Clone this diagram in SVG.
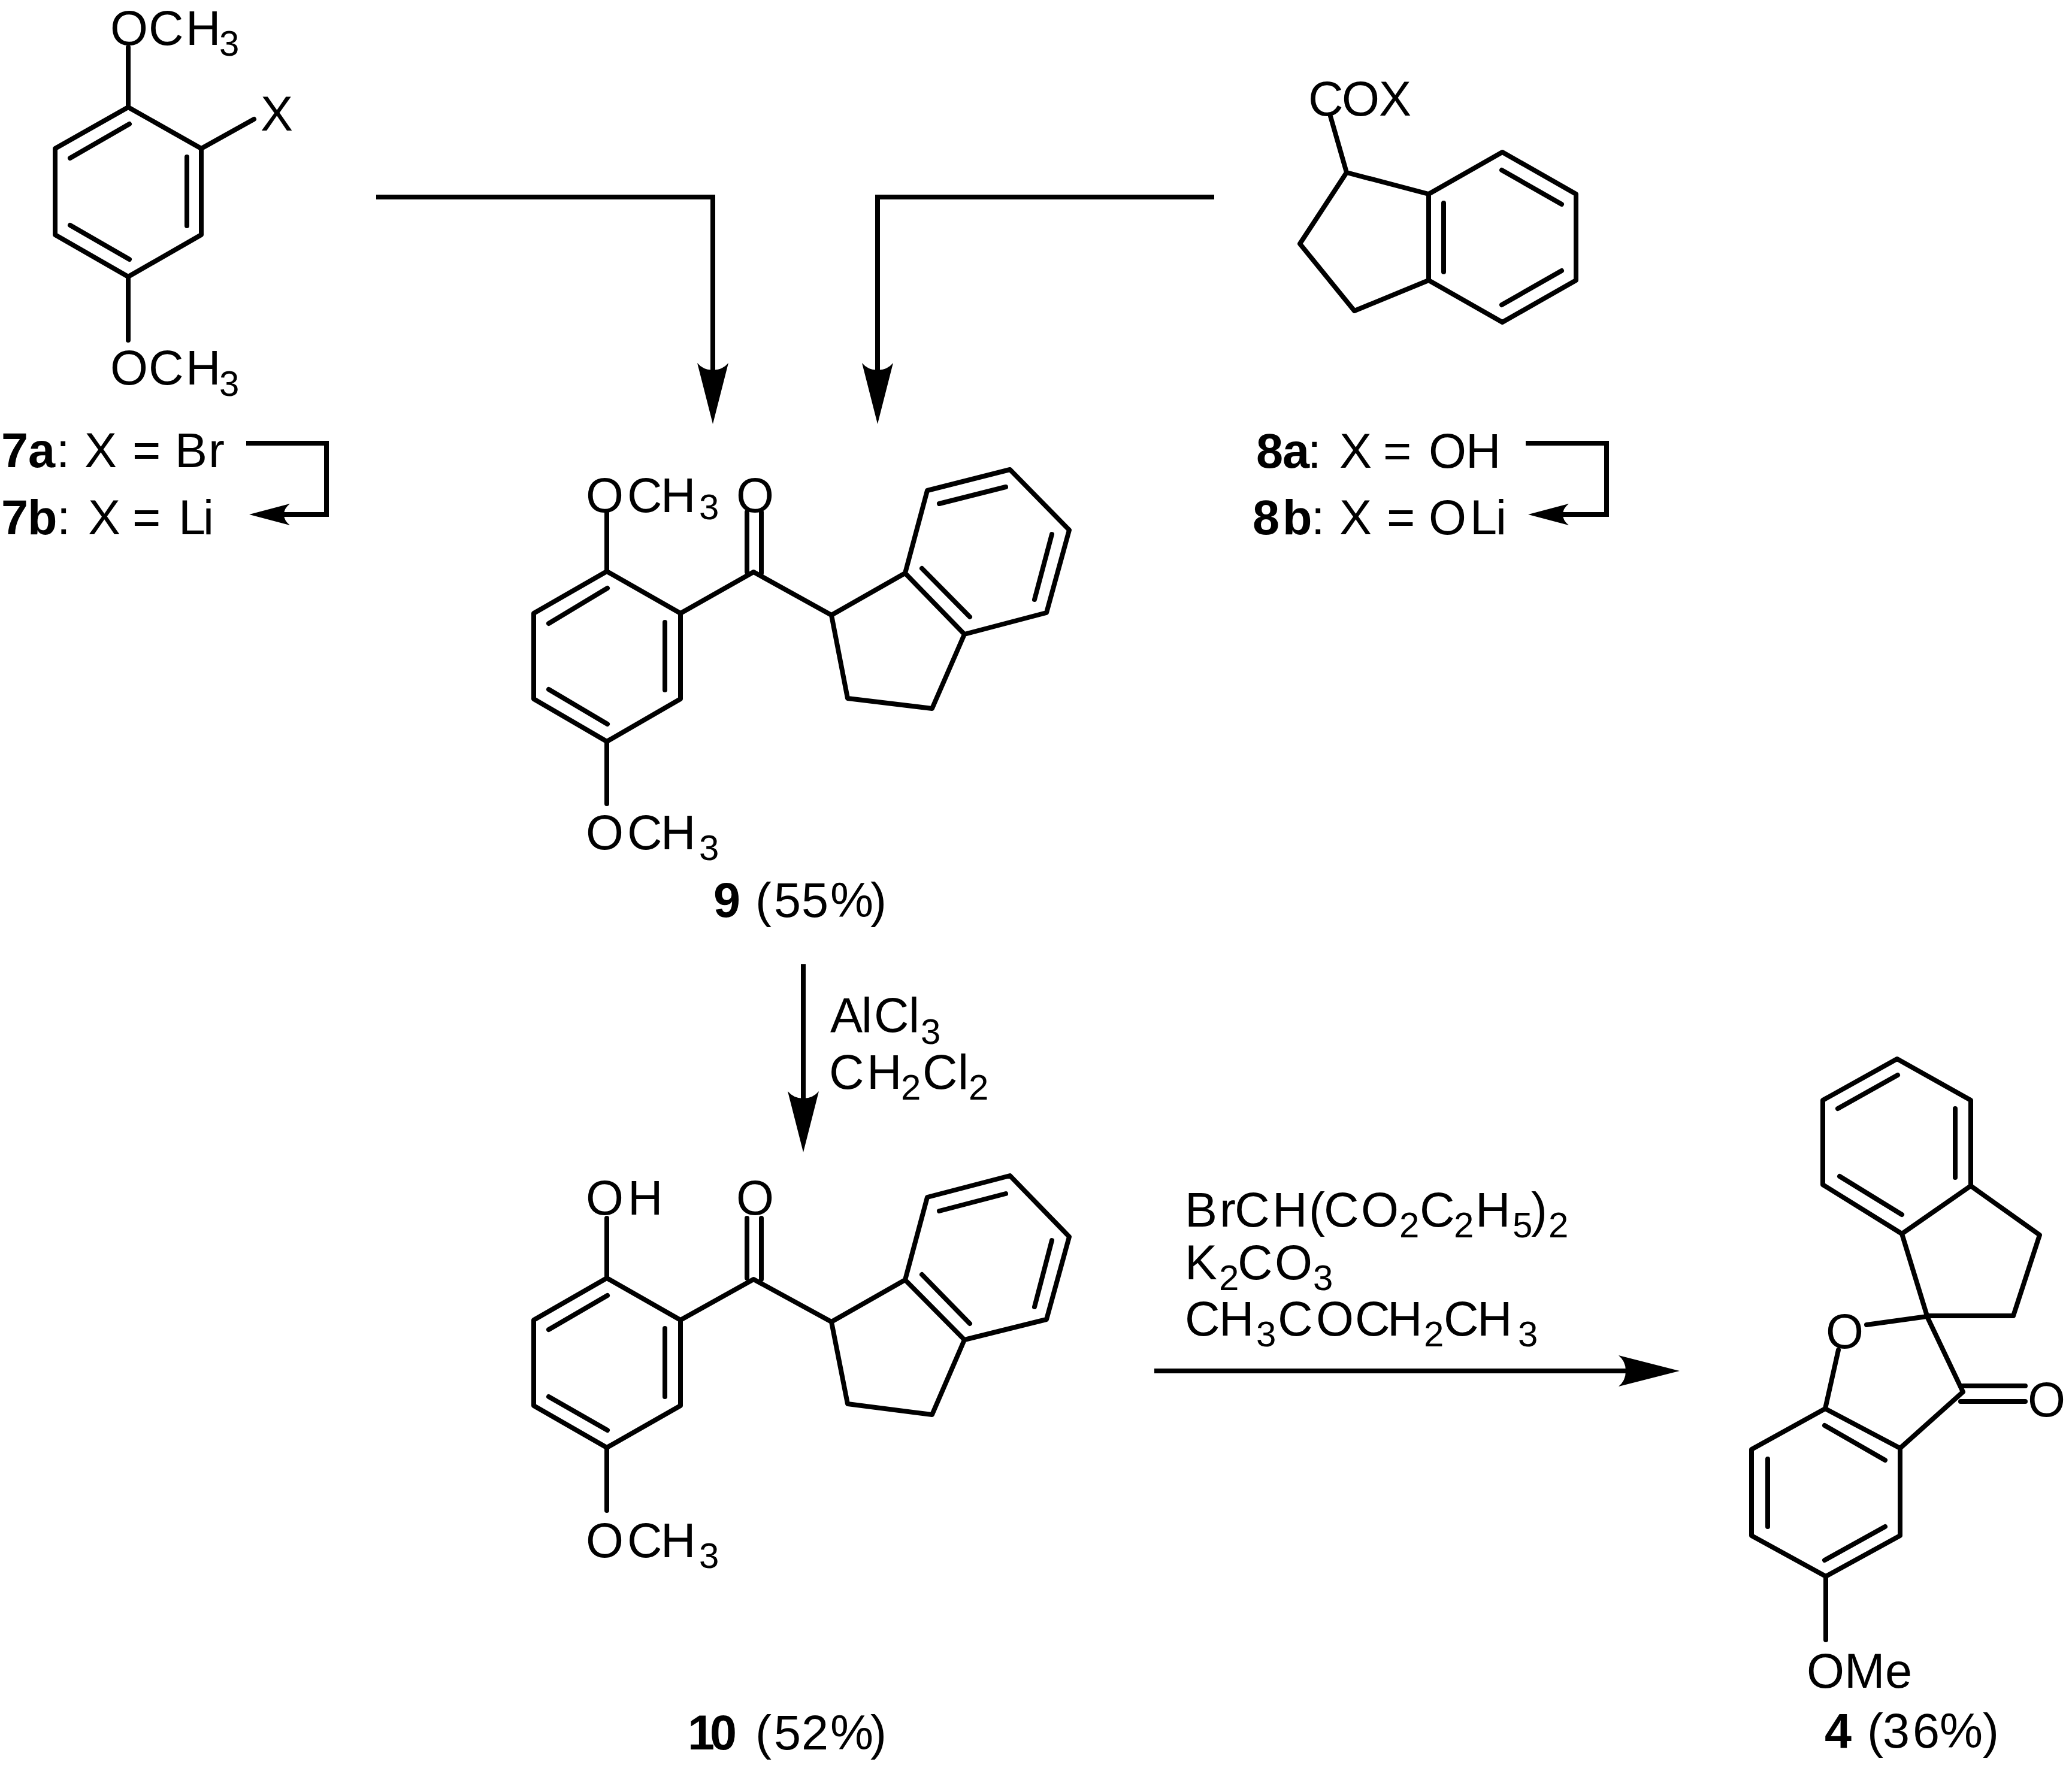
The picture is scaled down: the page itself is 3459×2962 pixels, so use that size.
<svg xmlns="http://www.w3.org/2000/svg" width="3459" height="2962" viewBox="0 0 3459 2962">
<style>
text{font-family:"Liberation Sans",Arial,sans-serif;font-size:81px;fill:#000}
.b{font-weight:bold}
.s{font-size:60px}
.bond{fill:none;stroke:#000;stroke-width:8;stroke-linecap:round;stroke-linejoin:round}
.conn{fill:none;stroke:#000;stroke-width:8;stroke-linejoin:miter}
</style>
<defs>
<marker id="big" markerUnits="userSpaceOnUse" markerWidth="104" markerHeight="60" refX="14" refY="30" orient="auto"><path d="M102,30L0,4Q12,14 12,30Q12,46 0,56Z" fill="#000"/></marker>
<marker id="small" markerUnits="userSpaceOnUse" markerWidth="72" markerHeight="40" refX="12" refY="20" orient="auto"><path d="M68,20L0,2Q10,10 10,20Q10,30 0,38Z" fill="#000"/></marker>
</defs>
<rect width="3459" height="2962" fill="#fff"/>
<g id="connectors">
<path class="conn" d="M628,329H1190V620" marker-end="url(#big)"/>
<path class="conn" d="M2027,329H1465V620" marker-end="url(#big)"/>
<path class="conn" d="M1341,1610V1836" marker-end="url(#big)"/>
<path class="conn" d="M1927,2289H2716" marker-end="url(#big)"/>
<path class="conn" d="M411,740H545V859H472" marker-end="url(#small)"/>
<path class="conn" d="M2547,740H2682V859H2607" marker-end="url(#small)"/>
</g>
<g id="node-7">
<path class="bond" d="M214,179L336,248V392L214,462L92,392V248ZM214,179V79M336,248L424,199M214,462V568M117,264L216,207M312,262V377M117,376L216,433"/>
<text x="184 248 310" y="75">OCH<tspan class="s" x="366" dy="18">3</tspan></text>
<text x="435" y="218">X</text>
<text x="184 248 310" y="642">OCH<tspan class="s" x="366" dy="19">3</tspan></text>
<text y="780"><tspan class="b" x="2 47">7a</tspan><tspan x="94">:</tspan><tspan x="141">X</tspan><tspan x="221">=</tspan><tspan x="292 348">Br</tspan></text>
<text y="892"><tspan class="b" x="2 46">7b</tspan><tspan x="95">:</tspan><tspan x="147">X</tspan><tspan x="221">=</tspan><tspan x="298 339">Li</tspan></text>
</g>
<g id="node-8">
<path class="bond" d="M2221,194L2248,288L2385,324V468L2261,519L2170,407L2248,288M2385,324L2508,254L2631,324V468L2508,538L2385,468M2410,339V454M2507,284L2607,341M2507,509L2607,452"/>
<text x="2184 2240 2302" y="193">COX</text>
<text y="781"><tspan class="b" x="2097 2141">8a</tspan><tspan x="2183">:</tspan><tspan x="2236">X</tspan><tspan x="2309">=</tspan><tspan x="2385 2447">OH</tspan></text>
<text y="892"><tspan class="b" x="2091 2141">8b</tspan><tspan x="2189">:</tspan><tspan x="2236">X</tspan><tspan x="2315">=</tspan><tspan x="2385 2454 2497">OLi</tspan></text>
</g>
<g id="node-9">
<path class="bond" d="M1013,954L1136,1024V1167L1013,1238L891,1167V1024ZM1013,954V855M1013,1238V1342M916,1041L1014,982M1110,1039V1152M916,1151L1014,1209M1136,1024L1258,955L1388,1027L1511,957L1610,1059L1556,1183L1415,1166L1388,1027M1247,855V955M1271,855V957M1511,957L1548,819L1686,784L1785,885L1747,1023L1610,1059M1539,949L1619,1030M1568,841L1679,813M1756,892L1727,1001"/>
<text x="978 1047 1103" y="855">OCH<tspan class="s" x="1167" dy="12">3</tspan></text>
<text x="1229" y="855">O</text>
<text x="978 1047 1103" y="1418">OCH<tspan class="s" x="1167" dy="18">3</tspan></text>
<text y="1531"><tspan class="b" x="1191">9</tspan><tspan x="1261 1292 1338 1386 1453">(55%)</tspan></text>
</g>
<g id="reagents-AlCl3">
<text y="1723"><tspan x="1386 1438 1459 1517">AlCl</tspan><tspan class="s" x="1537" dy="20">3</tspan></text>
<text y="1818"><tspan x="1384 1447">CH</tspan><tspan class="s" x="1504" dy="18">2</tspan><tspan x="1540 1599" dy="-18">Cl</tspan><tspan class="s" x="1617" dy="18">2</tspan></text>
</g>
<g id="node-10">
<path class="bond" d="M1013,2134L1136,2204V2347L1013,2417L891,2347V2204ZM1013,2134V2034M1013,2417V2522M916,2220L1014,2163M1110,2218V2332M916,2332L1014,2388M1136,2204L1258,2136L1388,2207L1511,2137L1610,2237L1556,2362L1415,2344L1388,2207M1247,2034V2134M1271,2034V2136M1511,2137L1548,1999L1686,1963L1785,2065L1747,2203L1610,2237M1539,2128L1619,2210M1568,2022L1679,1993M1756,2071L1727,2182"/>
<text x="978 1048" y="2028">OH</text>
<text x="1229" y="2028">O</text>
<text x="978 1047 1103" y="2600">OCH<tspan class="s" x="1167" dy="18">3</tspan></text>
<text y="2921"><tspan class="b" x="1148 1185">10</tspan><tspan x="1261 1292 1338 1386 1453">(52%)</tspan></text>
</g>
<g id="reagents-malonate">
<text y="2048"><tspan x="1978 2036 2061 2124 2185 2210 2272">BrCH(CO</tspan><tspan class="s" x="2336" dy="18">2</tspan><tspan x="2370" dy="-18">C</tspan><tspan class="s" x="2427" dy="18">2</tspan><tspan x="2463" dy="-18">H</tspan><tspan class="s" x="2525" dy="18">5</tspan><tspan x="2556" dy="-18">)</tspan><tspan class="s" x="2585" dy="18">2</tspan></text>
<text y="2136"><tspan x="1978">K</tspan><tspan class="s" x="2035" dy="18">2</tspan><tspan x="2066 2128" dy="-18">CO</tspan><tspan class="s" x="2192" dy="18">3</tspan></text>
<text y="2230"><tspan x="1978 2035">CH</tspan><tspan class="s" x="2097" dy="18">3</tspan><tspan x="2133 2197 2262 2316" dy="-18">COCH</tspan><tspan class="s" x="2377" dy="18">2</tspan><tspan x="2410 2466" dy="-18">CH</tspan><tspan class="s" x="2534" dy="18">3</tspan></text>
</g>
<g id="node-4">
<path class="bond" d="M3167,1768L3290,1837V1980L3175,2060L3043,1978V1837ZM3264,1851V1966M3068,1851L3168,1795M3071,1964L3175,2028M3290,1980L3405,2062L3361,2197H3217L3175,2060M3217,2198L3116,2212M3217,2198L3277,2324L3172,2418V2564L3048,2632L2924,2564V2420L3047,2352L3172,2418M3047,2352L3069,2254M3277,2314H3381M3273,2340H3381M3046,2380L3147,2438M2951,2436V2549M3046,2605L3147,2549M3048,2632V2738"/>
<text x="3048" y="2251">O</text>
<text x="3385" y="2365">O</text>
<text x="3016 3079 3147" y="2818">OMe</text>
<text y="2918"><tspan class="b" x="3046">4</tspan><tspan x="3117 3143 3193 3238 3310">(36%)</tspan></text>
</g>
</svg>
